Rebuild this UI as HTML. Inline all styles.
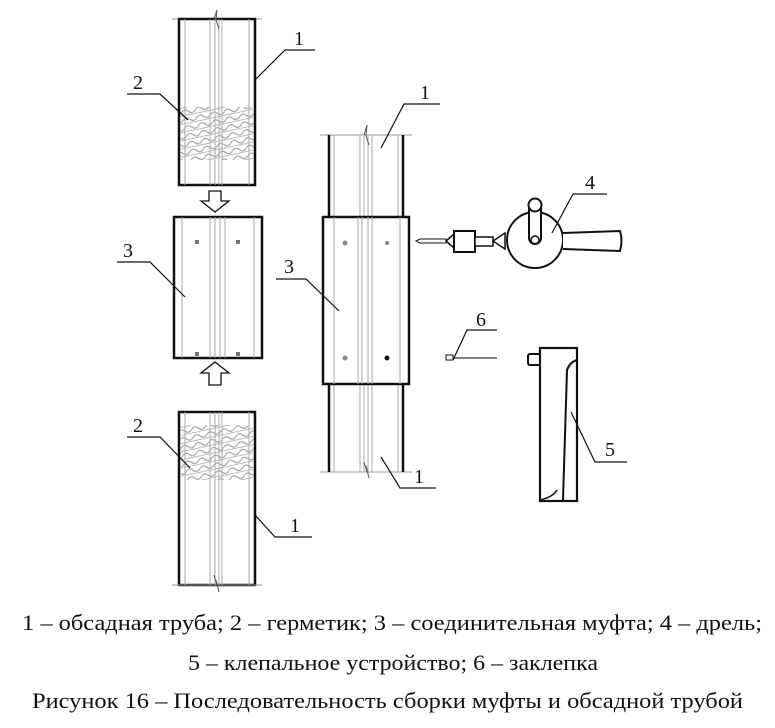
<!DOCTYPE html>
<html><head><meta charset="utf-8"><style>
html,body{margin:0;padding:0;background:#fff;}
svg{display:block;}
text{font-family:"Liberation Serif",serif;fill:#111;}
</style></head><body>
<svg width="775" height="728" viewBox="0 0 775 728" xmlns="http://www.w3.org/2000/svg">
<defs>
<pattern id="seal" width="14" height="8" patternUnits="userSpaceOnUse" patternTransform="rotate(-12)">
<path d="M0 4 Q3.5 0 7 4 T14 4" fill="none" stroke="#999" stroke-width="1"/>
<path d="M0 7.5 L14 7.5" stroke="#aaa" stroke-width="0.8"/>
</pattern>
</defs>
<g stroke="#111" fill="none">
<line x1="172" y1="19" x2="262" y2="19" stroke="#999"/>
<rect x="179" y="19" width="76" height="166" stroke-width="2.5" fill="#fff"/>
<rect x="180" y="107" width="74" height="53" fill="url(#seal)" stroke="none"/>
<g stroke="#aaa" stroke-width="1"><line x1="185" y1="19" x2="185" y2="185"/><line x1="210" y1="19" x2="210" y2="185"/><line x1="215" y1="19" x2="215" y2="185"/><line x1="219" y1="19" x2="219" y2="185"/><line x1="222" y1="19" x2="222" y2="185"/><line x1="249" y1="19" x2="249" y2="185"/></g>
<path d="M214 19 L217 10 L216 20 L219 29" stroke="#555"/>
<path d="M209 191 H221 V201 H229 L215 212 L201 201 H209 Z" stroke-width="1.3" fill="#fff"/>
<rect x="174" y="217" width="88" height="141" stroke-width="2.5" fill="#fff"/>
<g stroke="#aaa"><line x1="182" y1="217" x2="182" y2="358"/><line x1="210" y1="217" x2="210" y2="358"/><line x1="215" y1="217" x2="215" y2="358"/><line x1="220" y1="217" x2="220" y2="358"/><line x1="225" y1="217" x2="225" y2="358"/><line x1="254" y1="217" x2="254" y2="358"/></g>
<g fill="#777" stroke="none"><rect x="195" y="240" width="4" height="4"/><rect x="236" y="240" width="4" height="4"/><rect x="195" y="352" width="4" height="4"/><rect x="236" y="352" width="4" height="4"/></g>
<path d="M209 385 H221 V373 H229 L215 362 L201 373 H209 Z" stroke-width="1.3" fill="#fff"/>
<rect x="179" y="412" width="76" height="173" stroke-width="2.5" fill="#fff"/>
<line x1="172" y1="585" x2="262" y2="585" stroke="#999"/>
<rect x="180" y="425" width="74" height="55" fill="url(#seal)" stroke="none"/>
<g stroke="#aaa"><line x1="185" y1="412" x2="185" y2="585"/><line x1="210" y1="412" x2="210" y2="585"/><line x1="215" y1="412" x2="215" y2="585"/><line x1="219" y1="412" x2="219" y2="585"/><line x1="222" y1="412" x2="222" y2="585"/><line x1="249" y1="412" x2="249" y2="585"/></g>
<path d="M214 575 L217 585 L216 580 L219 592" stroke="#555"/>
<line x1="320" y1="135" x2="412" y2="135" stroke="#999"/>
<line x1="320" y1="472" x2="412" y2="472" stroke="#999"/>
<line x1="329" y1="135" x2="329" y2="472" stroke-width="2.5"/>
<line x1="403" y1="135" x2="403" y2="472" stroke-width="2.5"/>
<g stroke="#aaa"><line x1="334" y1="135" x2="334" y2="472"/><line x1="360" y1="135" x2="360" y2="472"/><line x1="364" y1="135" x2="364" y2="472"/><line x1="368" y1="135" x2="368" y2="472"/><line x1="372" y1="135" x2="372" y2="472"/><line x1="398" y1="135" x2="398" y2="472"/></g>
<rect x="323" y="217" width="86" height="167" stroke-width="2.5" fill="#fff"/>
<g stroke="#aaa"><line x1="334" y1="217" x2="334" y2="384"/><line x1="358" y1="217" x2="358" y2="384"/><line x1="362" y1="217" x2="362" y2="384"/><line x1="368" y1="217" x2="368" y2="384"/><line x1="372" y1="217" x2="372" y2="384"/><line x1="400" y1="217" x2="400" y2="384"/></g>
<g stroke="none"><circle cx="345" cy="243" r="2.5" fill="#888"/><circle cx="387" cy="243" r="2" fill="#888"/><circle cx="345" cy="358" r="2.5" fill="#888"/><circle cx="387" cy="358" r="2.5" fill="#111"/></g>
<path d="M364 135 L367 125 L366 136 L369 145" stroke="#555"/>
<path d="M364 462 L367 472 L366 466 L369 478" stroke="#555"/>
<path d="M416 241 L420 239 H446 V243 H420 Z" stroke-width="1"/>
<path d="M446 241 L454 234 V248 Z" stroke-width="1.5" fill="#fff"/>
<rect x="454" y="231" width="21" height="21" stroke-width="2" fill="#fff"/>
<rect x="475" y="237" width="18" height="9" stroke-width="1.5" fill="#fff"/>
<path d="M493 241 L505 233 V249 Z" stroke-width="1.5" fill="#fff"/>
<circle cx="535" cy="240" r="28" stroke-width="2" fill="#fff"/>
<path d="M563 233 L620 231 Q623 240 620 251 L563 249" stroke-width="2" fill="#fff"/>
<rect x="529" y="200" width="12" height="44" rx="6" stroke-width="2" fill="#fff"/>
<circle cx="535" cy="205" r="6.5" stroke-width="2" fill="#fff"/>
<circle cx="535" cy="240" r="4" stroke-width="1.5"/>
<path d="M446 355 H453 V360 H446 Z" stroke-width="1"/>
<line x1="453" y1="358" x2="497" y2="358" stroke="#555" stroke-width="1.5"/>
<rect x="528" y="354" width="13" height="11" rx="2" stroke-width="2" fill="#fff"/>
<rect x="540" y="348" width="37" height="153" stroke-width="2.2" fill="#fff"/>
<path d="M563 500 L567 370 Q570 362 577 360" stroke-width="2"/>
<path d="M540 500 Q553 497 557 490" stroke-width="1.5"/>
<g stroke-width="1.2">
<polyline points="255,80 285,50 315,50"/>
<polyline points="127,94 160,94 188,120"/>
<polyline points="117,262 150,262 185,297"/>
<polyline points="127,437 160,437 190,468"/>
<polyline points="255,515 275,537 312,537"/>
<polyline points="381,148 404,104 440,104"/>
<polyline points="276,279 306,279 339,311"/>
<polyline points="381,457 400,488 436,488"/>
<polyline points="552,233 573,194 607,194"/>
<polyline points="453,360 467,330 497,330"/>
<polyline points="571,412 595,462 627,462"/>
</g>
</g>
<g font-size="20">
<text x="294" y="45">1</text>
<text x="133" y="89">2</text>
<text x="123" y="257">3</text>
<text x="133" y="432">2</text>
<text x="290" y="532">1</text>
<text x="420" y="99">1</text>
<text x="284" y="273">3</text>
<text x="414" y="483">1</text>
<text x="585" y="189">4</text>
<text x="476" y="326">6</text>
<text x="605" y="456">5</text>
</g>
<g font-size="22">
<text x="22" y="630" textLength="740" lengthAdjust="spacingAndGlyphs">1 – обсадная труба; 2 – герметик; 3 – соединительная муфта; 4 – дрель;</text>
<text x="188" y="670" textLength="410" lengthAdjust="spacingAndGlyphs">5 – клепальное устройство; 6 – заклепка</text>
<text x="32" y="708" textLength="711" lengthAdjust="spacingAndGlyphs">Рисунок 16 – Последовательность сборки муфты и обсадной трубой</text>
</g>
</svg>
</body></html>
